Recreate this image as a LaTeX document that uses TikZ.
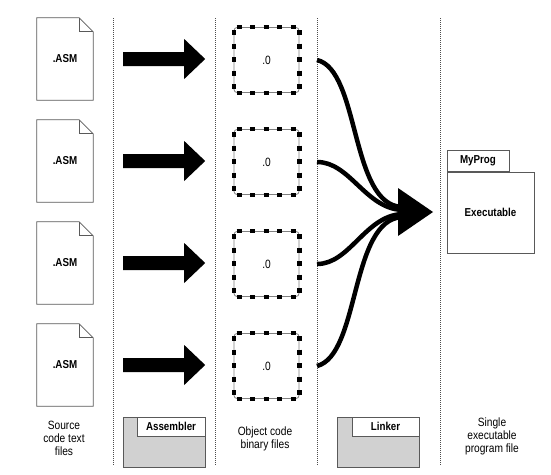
\documentclass[tikz,border=0pt]{standalone}
\usepackage{fontspec}
\setmainfont{Liberation Sans}[FakeStretch=0.85]
\usetikzlibrary{positioning}

\begin{document}
\begin{tikzpicture}[x=1pt, y=1pt, every node/.style={font=\fontsize{12}{13}\selectfont, align=center},
	page/.style={inner sep=0, minimum width=56pt, minimum height=82pt, font=\fontsize{11.5}{12}\selectfont\bfseries},
	outline/.style={draw=black!65, line width=0.8pt},
	objfile/.style={draw=black!50, line width=0.8pt, rounded corners=3pt, inner sep=0, minimum size=65pt},
	objdash/.style={line width=4.2pt, dash pattern=on 5pt off 8.5pt},
	divider/.style={black!70, line width=0.5pt, dash pattern=on 1pt off 1pt},
	link/.style={line width=4.5pt},
	tool/.style={outline, fill=black!18, inner sep=0, minimum width=82pt, minimum height=50pt},
	toolname/.style={outline, fill=white, inner sep=0, minimum height=19pt, font=\fontsize{11.5}{12}\selectfont\bfseries}]
	\useasboundingbox (0,0) rectangle (551,-474);
	% column dividers
	\foreach \x in {113,215,317,440}
		\draw[divider] (\x,-18) -- (\x,-466);
	% source files, fat arrows, object files
	\foreach \r/\y in {1/-59, 2/-161, 3/-263, 4/-365} {
		\node[page] (src\r) at (65,\y) {.ASM};
		\draw[outline] (src\r.north west) -- ([xshift=-14pt]src\r.north east) -- ([yshift=-14pt]src\r.north east) -- (src\r.south east) -- (src\r.south west) -- cycle;
		\draw[outline] ([xshift=-14pt]src\r.north east) |- ([yshift=-14pt]src\r.north east);
		\fill ([xshift=30pt]src\r.east) ++(0,7) -- ++(61,0) -- ++(0,13) -- ++(21,-20) -- ++(-21,-20) -- ++(0,13) -- ++(-61,0) -- cycle;
		\node[objfile] (obj\r) at (266.5,\y-1) {.0};
		\draw[objdash] ([xshift=3pt]obj\r.north west) -- ([xshift=-3pt]obj\r.north east);
		\draw[objdash] ([xshift=3pt]obj\r.south west) -- ([xshift=-3pt]obj\r.south east);
		\draw[objdash] ([yshift=-3pt]obj\r.north west) -- ([yshift=3pt]obj\r.south west);
		\draw[objdash] ([yshift=-3pt]obj\r.north east) -- ([yshift=3pt]obj\r.south east);
		\coordinate (out\r) at (317,\y-1);
	}
	% linker arrows
	\coordinate (hub) at (398,-212);
	\draw[link] (out1) .. controls (360,-70) and (350,-205) .. ([shift={(4,5)}]hub);
	\draw[link] (out2) .. controls (350,-162) and (365,-208) .. ([shift={(4,2)}]hub);
	\draw[link] (out3) .. controls (350,-264) and (365,-216) .. ([shift={(4,-2)}]hub);
	\draw[link] (out4) .. controls (360,-355) and (350,-220) .. ([shift={(4,-5)}]hub);
	\fill (hub) ++(0,24) -- ++(35,-24) -- ++(-35,-24) -- cycle;
	% executable
	\node[outline, inner sep=0, minimum width=87pt, minimum height=81pt, font=\fontsize{11.5}{12}\selectfont\bfseries] (exe) at (490.5,-212.5) {Executable};
	\node[outline, inner sep=0, minimum width=62pt, minimum height=21pt, anchor=south west, font=\fontsize{11.5}{12}\selectfont\bfseries] (tab) at (exe.north west) {MyProg};
	% tools
	\node[tool] (asm) at (164,-442) {};
	\node[toolname, minimum width=68pt, anchor=north east] (asmname) at (asm.north east) {Assembler};
	\node[tool] (lnk) at (378,-442) {};
	\node[toolname, minimum width=67pt, anchor=north east] (lnkname) at (lnk.north east) {Linker};
	% captions
	\node (srccap) at (64,-438) {Source\\code text\\files};
	\node (objcap) at (265,-439) {Object code\\binary files};
	\node (execap) at (492,-436) {Single\\executable\\program file};
\end{tikzpicture}
\end{document}
